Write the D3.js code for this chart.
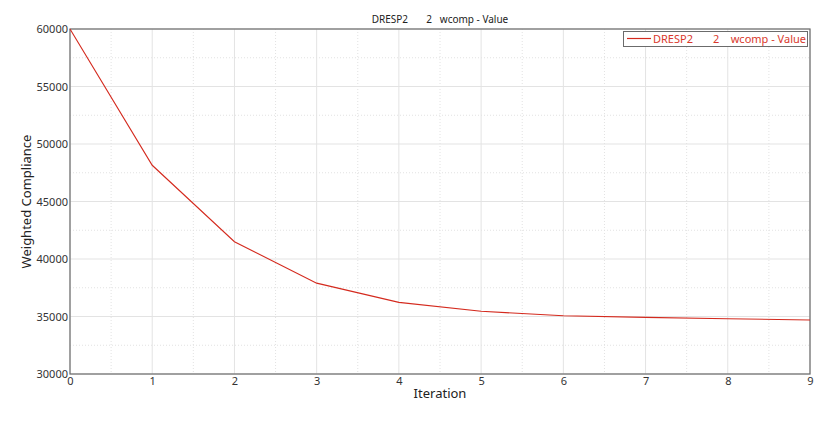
<!DOCTYPE html>
<html>
<head>
<meta charset="utf-8">
<script src="https://cdn.jsdelivr.net/npm/d3@7"></script>
<style>
  body { margin: 0; background: #fff; }
  svg { display: block; font-family: "Noto Sans", "Open Sans", sans-serif; }
  .pre { white-space: pre; }
</style>
</head>
<body>
<svg id="chart"></svg>
<script>
// data
const iterations = [0, 1, 2, 3, 4, 5, 6, 7, 8, 9];
const wcomp = [60000, 48150, 41500, 37900, 36230, 35460, 35060, 34920, 34800, 34700];
const xTicks = [0, 1, 2, 3, 4, 5, 6, 7, 8, 9];
const yTicks = [30000, 35000, 40000, 45000, 50000, 55000, 60000];
const seriesName = "DRESP2       2    wcomp - Value";

// layout constants ("top" is a window global, so use plot* names)
const w = 840, h = 422;
const plotL = 70, plotR = 810, plotT = 29, plotB = 374;
const red = "#d42a1e";

const svg = d3.select("#chart").attr("width", w).attr("height", h);

const x = d3.scaleLinear().domain([0, 9]).range([plotL, plotR]);
const y = d3.scaleLinear().domain([30000, 60000]).range([plotB, plotT]);

// minor grid (dotted)
const minorX = d3.range(0.5, 9, 1);
const minorY = d3.range(32500, 60000, 5000);
svg.append("g").selectAll("line").data(minorX).join("line")
  .attr("x1", d => x(d)).attr("x2", d => x(d))
  .attr("y1", plotT).attr("y2", plotB)
  .attr("stroke", "#e2e2e2").attr("stroke-dasharray", "1,2");
svg.append("g").selectAll("line").data(minorY).join("line")
  .attr("y1", d => y(d)).attr("y2", d => y(d))
  .attr("x1", plotL).attr("x2", plotR)
  .attr("stroke", "#e2e2e2").attr("stroke-dasharray", "1,2");

// major grid
svg.append("g").selectAll("line").data(xTicks).join("line")
  .attr("x1", d => x(d)).attr("x2", d => x(d))
  .attr("y1", plotT).attr("y2", plotB)
  .attr("stroke", "#e3e3e3");
svg.append("g").selectAll("line").data(yTicks).join("line")
  .attr("y1", d => y(d)).attr("y2", d => y(d))
  .attr("x1", plotL).attr("x2", plotR)
  .attr("stroke", "#e3e3e3");

// frame
svg.append("rect")
  .attr("x", plotL).attr("y", plotT)
  .attr("width", plotR - plotL).attr("height", plotB - plotT)
  .attr("fill", "none").attr("stroke", "#6b6b6b").attr("stroke-width", 1.2);

// axes
const xAxis = d3.axisBottom(x).tickValues(xTicks).tickSize(0).tickPadding(3).tickFormat(d3.format("d"));
const yAxis = d3.axisLeft(y).tickValues(yTicks).tickSize(0).tickPadding(2).tickFormat(d3.format("d"));

const gx = svg.append("g").attr("transform", `translate(0,${plotB})`).call(xAxis);
const gy = svg.append("g").attr("transform", `translate(${plotL},0)`).call(yAxis);
[gx, gy].forEach(g => {
  g.select(".domain").remove();
  g.selectAll("text").attr("fill", "#333").style("font-size", "11px")
    .style("font-family", "'Noto Sans', sans-serif");
});

// the series
const line = d3.line().x((d, i) => x(iterations[i])).y(d => y(d));
svg.append("path")
  .datum(wcomp)
  .attr("d", line)
  .attr("fill", "none")
  .attr("stroke", red)
  .attr("stroke-width", 1.1);

// title
svg.append("text")
  .attr("class", "pre")
  .attr("x", (plotL + plotR) / 2).attr("y", 23)
  .attr("text-anchor", "middle")
  .style("font-size", "10px").attr("fill", "#222")
  .text("DRESP2       2   wcomp - Value");

// axis titles
svg.append("text")
  .attr("x", (plotL + plotR) / 2).attr("y", 398)
  .attr("text-anchor", "middle")
  .style("font-size", "13px").attr("fill", "#222")
  .text("Iteration");

svg.append("text")
  .attr("transform", `translate(31,${(plotT + plotB) / 2}) rotate(-90)`)
  .attr("text-anchor", "middle")
  .style("font-size", "13px").attr("fill", "#222")
  .text("Weighted Compliance");

// legend
const legend = svg.append("g");
legend.append("rect")
  .attr("x", 623.5).attr("y", 31.5).attr("width", 184).attr("height", 15)
  .attr("fill", "#fff").attr("stroke", "#6b6b6b");
legend.append("line")
  .attr("x1", 627).attr("x2", 651).attr("y1", 38.5).attr("y2", 38.5)
  .attr("stroke", red).attr("stroke-width", 1.2);
legend.append("text")
  .attr("class", "pre")
  .attr("x", 653).attr("y", 43)
  .style("font-size", "11px").attr("fill", "#d9382c")
  .text(seriesName);
</script>
</body>
</html>
